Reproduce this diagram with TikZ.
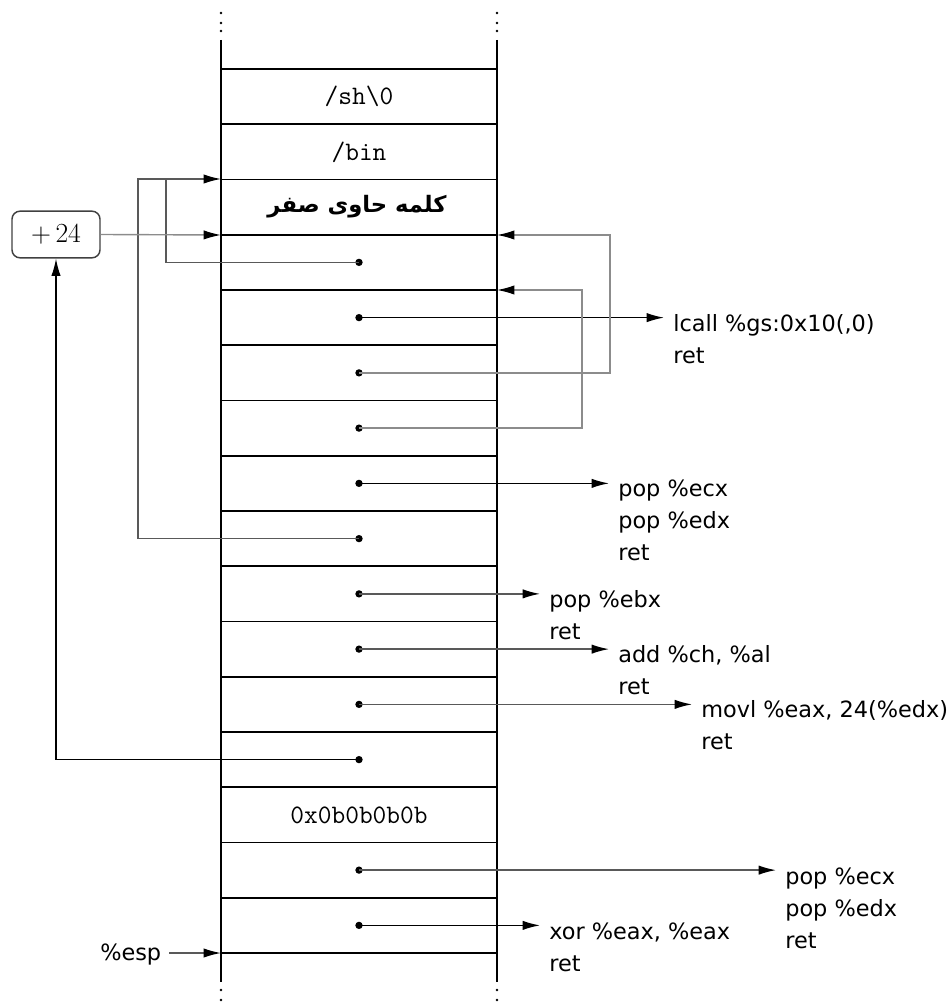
\documentclass[tikz,border=0pt]{standalone}
\usepackage{fontspec}
\setsansfont{DejaVu Sans}
\newfontfamily\persianfont[Script=Arabic]{DejaVu Sans}
\TeXXeTstate=1
\usetikzlibrary{arrows.meta}
\begin{document}
\begin{tikzpicture}[x=0.75pt,y=-0.75pt,
  stackline/.style={line width=1.25pt},
  conn/.style={line width=1.05pt,-{Latex[length=13pt,width=7pt,color=black]}},
  plainconn/.style={line width=1.05pt},
  totext/.style={conn,shorten >=6.75pt},
  dotnode/.style={circle,fill=black,inner sep=0pt,minimum size=5.5pt},
  code/.style={font=\sffamily\fontsize{16.8}{24}\selectfont,anchor=base west,inner sep=0pt},
  celltext/.style={font=\ttfamily\fontsize{20}{24}\selectfont,inner sep=0pt},
  light/.style={draw=black!45},
  mid/.style={draw=black!65}
]
\useasboundingbox (0,0) rectangle (951,1005);
% stack walls
\draw[stackline] (221,40) -- (221,982);
\draw[stackline] (497,40) -- (497,982);
\foreach \yy in {13,23,31,990,1000}{
  \fill (221,\yy) circle (1.3);
  \fill (497,\yy) circle (1.3);
}
\foreach \i in {0,...,16}{
  \draw[stackline] (221,{69+55.25*\i}) -- (497,{69+55.25*\i});
}
% cell texts
\node[celltext] (c0) at (359,{69+55.25*0.5}) {/sh\textbackslash0};
\node[celltext] (c1) at (359,{69+55.25*1.5}) {/bin};
\node[inner sep=0pt,font=\persianfont\bfseries\fontsize{17}{20}\selectfont] (c2) at (357,{69+55.25*2.5}) {\beginR کلمه حاوی صفر\endR};
\node[celltext] (c13) at (359,{69+55.25*13.5}) {0x0b0b0b0b};
% dots
\foreach \k in {3,4,5,6,7,8,9,10,11,12,14,15}{
  \node[dotnode] (d\k) at (359,{69+55.25*(\k+0.5)}) {};
}
% edge coordinates
\coordinate (lt179) at (221,179);
\coordinate (lt235) at (221,235);
\coordinate (rt235) at (497,235);
\coordinate (rt290) at (497,290);
\coordinate (esptip) at (221,953);
% +24 box
\node[draw=black!75,line width=1.1pt,rounded corners=6pt,minimum width=66pt,minimum height=35pt,inner sep=0pt,font=\fontsize{20}{24}\selectfont] (box) at (56,234.5) {$+\,24$};
% code texts
\node[code] (t4) at (673,331) {\begin{tabular}[t]{@{}l@{}}lcall \%gs:0x10(,0)\\ret\end{tabular}};
\node[code] (t7) at (618,496) {\begin{tabular}[t]{@{}l@{}}pop \%ecx\\pop \%edx\\ret\end{tabular}};
\node[code] (t9) at (549,607) {\begin{tabular}[t]{@{}l@{}}pop \%ebx\\ret\end{tabular}};
\node[code] (t10) at (618,662) {\begin{tabular}[t]{@{}l@{}}add \%ch, \%al\\ret\end{tabular}};
\node[code] (t11) at (701,717) {\begin{tabular}[t]{@{}l@{}}movl \%eax, 24(\%edx)\\ret\end{tabular}};
\node[code] (t14) at (785,884) {\begin{tabular}[t]{@{}l@{}}pop \%ecx\\pop \%edx\\ret\end{tabular}};
\node[code] (t15) at (549,939) {\begin{tabular}[t]{@{}l@{}}xor \%eax, \%eax\\ret\end{tabular}};
\node[code] (esp) at (100,960) {\%esp};
% right arrows
\draw[totext] (d4.center) -- (d4.center -| t4.base west);
\draw[totext] (d7.center) -- (d7.center -| t7.base west);
\draw[totext,mid] (d9.center) -- (d9.center -| t9.base west);
\draw[totext,mid] (d10.center) -- (d10.center -| t10.base west);
\draw[totext,mid] (d11.center) -- (d11.center -| t11.base west);
\draw[totext,mid] (d14.center) -- (d14.center -| t14.base west);
\draw[totext] (d15.center) -- (d15.center -| t15.base west);
% loops on the right
\draw[conn,light] (d5.center) -| (610,235) -- (rt235);
\draw[conn,light] (d6.center) -| (582,290) -- (rt290);
% left connectors
\draw[conn,mid] (d8.center) -| (138,179) -- (lt179);
\draw[plainconn,mid] (d3.center) -| (166,179);
\draw[conn,light] (box.east) -- (lt235);
\draw[conn] (d12.center) -| (box.south);
\draw[conn,mid] ([xshift=6pt]esp.east |- esptip) -- (esptip);
\end{tikzpicture}
\end{document}
